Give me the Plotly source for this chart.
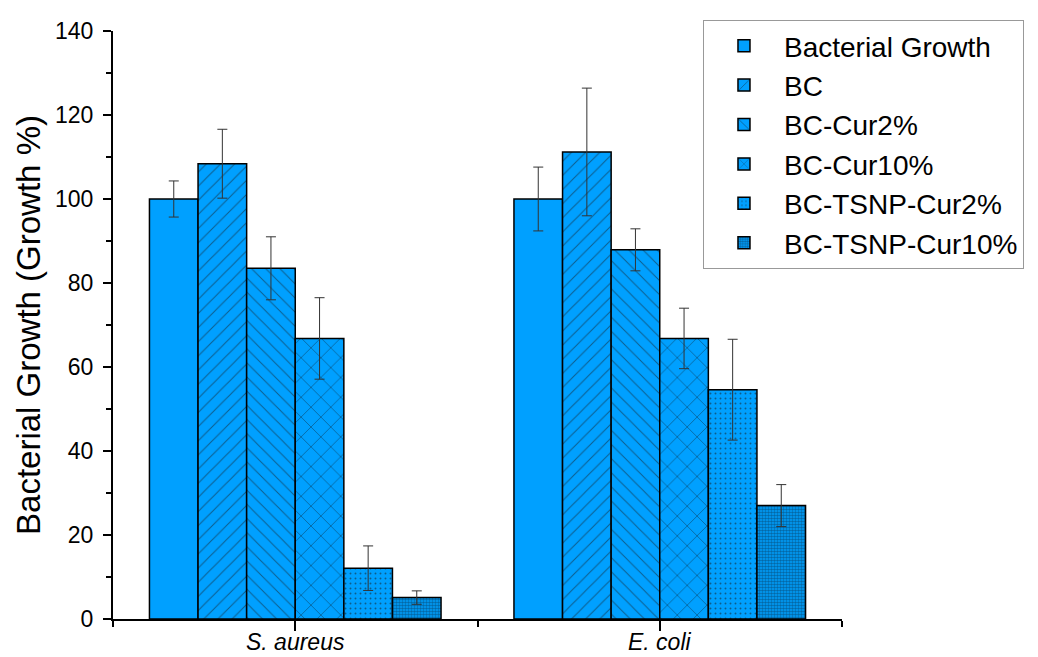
import plotly.graph_objects as go

categories = ["<i>S. aureus</i>", "<i>E. coli</i>"]
series_names = ["Bacterial Growth", "BC", "BC-Cur2%", "BC-Cur10%", "BC-TSNP-Cur2%", "BC-TSNP-Cur10%"]
values = [
    [100.0, 100.0],
    [108.4, 111.2],
    [83.5, 87.9],
    [66.8, 66.8],
    [12.1, 54.6],
    [5.1, 27.0],
]
errors = [
    [4.3, 7.6],
    [8.2, 15.2],
    [7.5, 5.0],
    [9.7, 7.2],
    [5.3, 12.0],
    [1.6, 5.0],
]
y_ticks = [0, 20, 40, 60, 80, 100, 120, 140]

patterns = [
    dict(shape=""),
    dict(shape="/", size=10, solidity=0.1, fgcolor="#1a1a1a"),
    dict(shape="\\", size=10, solidity=0.1, fgcolor="#1a1a1a"),
    dict(shape="x", size=14, solidity=0.1, fgcolor="#111111"),
    dict(shape=".", size=5, solidity=0.12, fgcolor="#1a1a1a"),
    dict(shape=".", size=3, solidity=0.55, fgcolor="#06314f"),
]
fill = "#00a0ff"

xpos = list(range(len(categories)))
fig = go.Figure()
for name, v, e, p in zip(series_names, values, errors, patterns):
    fig.add_trace(go.Bar(
        name=name, x=xpos, y=v,
        marker=dict(color=fill, line=dict(color="black", width=1.5), pattern=p),
        error_y=dict(type="data", array=e, visible=True, color="#333333", thickness=1, width=5),
    ))

# category labels placed just under the axis (tick labels would fall below the page edge)
for xi, label in zip(xpos, categories):
    fig.add_annotation(
        x=xi, y=-0.0383, xref="x", yref="paper", xanchor="center", yanchor="middle",
        text=label, showarrow=False, font=dict(size=23),
    )

font_family = "Liberation Sans, Arial, sans-serif"
# page body has an 8px margin, so the figure is 8px smaller than the window
fig.update_layout(
    width=1030, height=649,
    margin=dict(l=105, r=196, t=23, b=38, autoexpand=False),
    paper_bgcolor="white", plot_bgcolor="white",
    barmode="group", bargap=0.2, bargroupgap=0,
    font=dict(family=font_family, color="black"),
    showlegend=True,
    legend=dict(
        x=0.8093, y=1.0187, xanchor="left", yanchor="top",
        bgcolor="white", bordercolor="#999999", borderwidth=1,
        font=dict(size=28, family=font_family), tracegroupgap=0,
        itemwidth=70,
    ),
    xaxis=dict(
        range=[-0.5, 1.5], tickmode="array", tickvals=xpos, showticklabels=False,
        ticks="outside", ticklen=10, tickwidth=2, tickcolor="black",
        showline=True, linecolor="black", linewidth=2, showgrid=False, zeroline=False,
        automargin=False,
        minor=dict(tickmode="array", tickvals=[-0.5, 0.5, 1.5], ticks="outside", ticklen=6, tickwidth=2, tickcolor="black", showgrid=False),
    ),
    yaxis=dict(
        range=[0, 140], tickmode="array", tickvals=y_ticks,
        ticks="outside", ticklen=8, tickwidth=2, tickcolor="black",
        showline=True, linecolor="black", linewidth=2, showgrid=False, zeroline=False,
        tickfont=dict(size=23), ticklabelstandoff=5, automargin=False,
        title=dict(text="Bacterial Growth (Growth %)", font=dict(size=33), standoff=4),
        minor=dict(dtick=10, ticks="outside", ticklen=5, tickwidth=2, tickcolor="black", showgrid=False),
    ),
)

fig.write_html("out.html")
